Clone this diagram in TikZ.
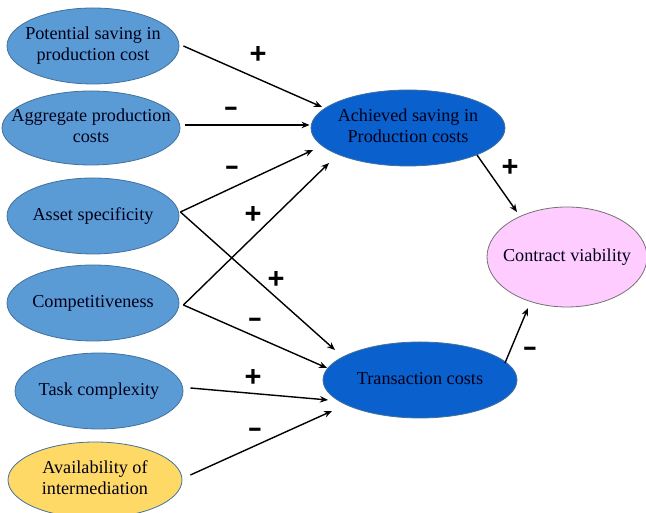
\documentclass[tikz,border=0pt]{standalone}
\usepackage{fontspec}
\usepackage{graphicx}
\setmainfont{Liberation Serif}
\newfontfamily\signfont{Liberation Sans}
\usetikzlibrary{shapes.geometric,arrows.meta,calc}
\definecolor{lblue}{HTML}{5B9BD5}
\definecolor{dblue}{HTML}{0A60CC}
\definecolor{pinkc}{HTML}{FFCCFF}
\definecolor{yellc}{HTML}{FFD966}
\definecolor{edgec}{HTML}{41719C}
\newcommand{\ctext}[1]{\makebox[0pt]{\begin{tabular}{@{}c@{}}#1\end{tabular}}}
\begin{document}
\begin{tikzpicture}[x=1pt,y=1pt,
  oval/.style={ellipse, draw=edgec, line width=0.8pt, inner sep=0pt,
    font=\fontsize{18.2}{21}\selectfont, text=black!90!blue},
  conn/.style={-{Stealth[length=8pt,width=6.5pt]}, line width=1.4pt},
  plus/.style={font=\signfont\bfseries\fontsize{29}{29}\selectfont, inner sep=0pt},
  minus/.style={font=\signfont\bfseries\fontsize{26}{26}\selectfont, inner sep=0pt}]
\useasboundingbox (0,0) rectangle (646,513);
% left nodes
\node[oval, fill=lblue, minimum width=172, minimum height=76] (pot) at (93,467) {\ctext{Potential saving in\\production cost}};
\node[oval, fill=lblue, minimum width=178, minimum height=74] (agg) at (91,385) {\ctext{Aggregate production\\costs}};
\node[oval, fill=lblue, minimum width=172, minimum height=76] (ass) at (93,297) {\ctext{Asset specificity}};
\node[oval, fill=lblue, minimum width=172, minimum height=76] (com) at (93,210) {\ctext{Competitiveness}};
\node[oval, fill=lblue, minimum width=168, minimum height=76] (task) at (99,122) {\ctext{Task complexity}};
\node[oval, fill=yellc, minimum width=174, minimum height=76] (avail) at (95,33) {\ctext{Availability of\\intermediation}};
% middle and right nodes
\node[oval, fill=dblue, minimum width=194, minimum height=76] (ach) at (408,385) {\ctext{Achieved saving in\\Production costs}};
\node[oval, fill=dblue, minimum width=194, minimum height=76] (tra) at (420,133) {\ctext{Transaction costs}};
\node[oval, fill=pinkc, draw=black!55, minimum width=160, minimum height=100] (con) at (567,256) {\ctext{Contract viability}};
% connectors
\draw[conn] ([xshift=4]pot.east) -- ($(ach.center)+(-86,21)$);
\draw[conn] ([xshift=5,yshift=3]agg.east) -- ([xshift=-1,yshift=3]ach.west);
\draw[conn] ([xshift=1,yshift=4]ass.east) -- ($(ach.center)+(-95,-22)$);
\draw[conn] ([xshift=4,yshift=-2]com.east) -- ($(ach.center)+(-79,-35)$);
\draw[conn] ([xshift=1,yshift=4]ass.east) -- ($(tra.center)+(-85,30)$);
\draw[conn] ([xshift=4,yshift=-2]com.east) -- ($(tra.center)+(-93,12)$);
\draw[conn] ([xshift=7,yshift=3]task.east) -- ($(tra.center)+(-92,-20)$);
\draw[conn] ([xshift=8,yshift=5]avail.east) -- ($(tra.center)+(-88,-31)$);
\draw[conn] ($(ach.center)+(69,-27)$) -- ($(con.center)+(-50,45)$);
\draw[conn] ($(tra.center)+(85,17)$) -- ($(con.center)+(-39,-51)$);
% signs
\node[plus] (l1) at (258,458) {+};
\node[minus] (l2) at (231,402) {\scalebox{1.7}[1]{-}};
\node[minus] (l3) at (232,343) {\scalebox{1.7}[1]{-}};
\node[plus] (l4) at (253,298) {+};
\node[plus] (l5) at (276,233) {+};
\node[minus] (l6) at (255,191) {\scalebox{1.7}[1]{-}};
\node[plus] (l7) at (253,135) {+};
\node[minus] (l8) at (255,81) {\scalebox{1.7}[1]{-}};
\node[plus] (l9) at (510,345) {+};
\node[minus] (l10) at (530,162) {\scalebox{1.7}[1]{-}};
\end{tikzpicture}
\end{document}
